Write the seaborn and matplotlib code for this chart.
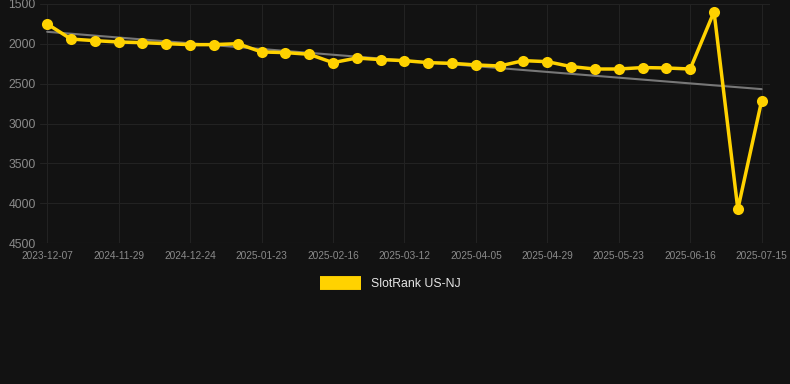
import numpy as np
import pandas as pd
import matplotlib
matplotlib.use('Agg')
import matplotlib.pyplot as plt
import seaborn as sns

# rank values (lower = better, axis inverted)
ranks = [1750, 1940, 1960, 1977, 1985, 1998, 2010, 2010, 1998, 2102,
         2110, 2131, 2236, 2178, 2198, 2211, 2236, 2245, 2265, 2278,
         2211, 2224, 2286, 2316, 2316, 2298, 2303, 2316, 1597, 4076,
         2713]
tick_labels = ['2023-12-07', '2024-11-29', '2024-12-24', '2025-01-23',
               '2025-02-16', '2025-03-12', '2025-04-05', '2025-04-29',
               '2025-05-23', '2025-06-16', '2025-07-15']
y_ticks = [1500, 2000, 2500, 3000, 3500, 4000, 4500]

df = pd.DataFrame({'idx': np.arange(len(ranks)), 'rank': ranks})

bg = '#121212'
gold = '#FFD200'

sns.set_theme(style='dark')
plt.rcParams['font.family'] = ['Liberation Sans', 'DejaVu Sans']

fig = plt.figure(figsize=(7.9, 3.84), dpi=100, facecolor=bg)
ax = fig.add_axes([40 / 790, 1 - 243 / 384, 730 / 790, 239 / 384])
ax.set_facecolor(bg)

# trend line (least squares fit)
coef = np.polyfit(df['idx'], df['rank'], 1)
trend = np.polyval(coef, df['idx'])
ax.plot(df['idx'], trend, color='#777777', lw=1.5, zorder=2)

sns.lineplot(data=df, x='idx', y='rank', ax=ax, color=gold, lw=2.5,
             marker='o', markersize=8, markeredgewidth=0, zorder=3,
             label='SlotRank US-NJ', legend=False)

ax.set_ylim(4500, 1500)
ax.set_xlim(-0.3, len(ranks) - 0.65)
ax.set_yticks(y_ticks)
ax.set_yticklabels([str(v) for v in y_ticks])
ax.set_xticks(np.arange(0, len(ranks), 3))
ax.set_xticklabels(tick_labels)
ax.tick_params(axis='y', colors='#8a8a8a', labelsize=8.7, length=0, pad=3)
ax.tick_params(axis='x', colors='#8a8a8a', labelsize=7.3, length=0, pad=6)
ax.grid(True, color='#222222', lw=0.8)
ax.set_xlabel('')
ax.set_ylabel('')
for s in ax.spines.values():
    s.set_visible(False)
ax.axhline(4500, color='#2e2e2e', lw=0.8)

handles, labels = ax.get_legend_handles_labels()
leg = fig.legend(handles, labels, loc='center', bbox_to_anchor=(390 / 790, 1 - 284 / 384),
                 frameon=False, handlelength=3.4, handleheight=1.0, fontsize=8.8)
for h in leg.legend_handles:
    h.set_marker('')
    h.set_linewidth(10)
    h.set_solid_capstyle('butt')
for t in leg.get_texts():
    t.set_color('#e6e6e6')

fig.savefig('out.png', dpi=100, facecolor=bg)
